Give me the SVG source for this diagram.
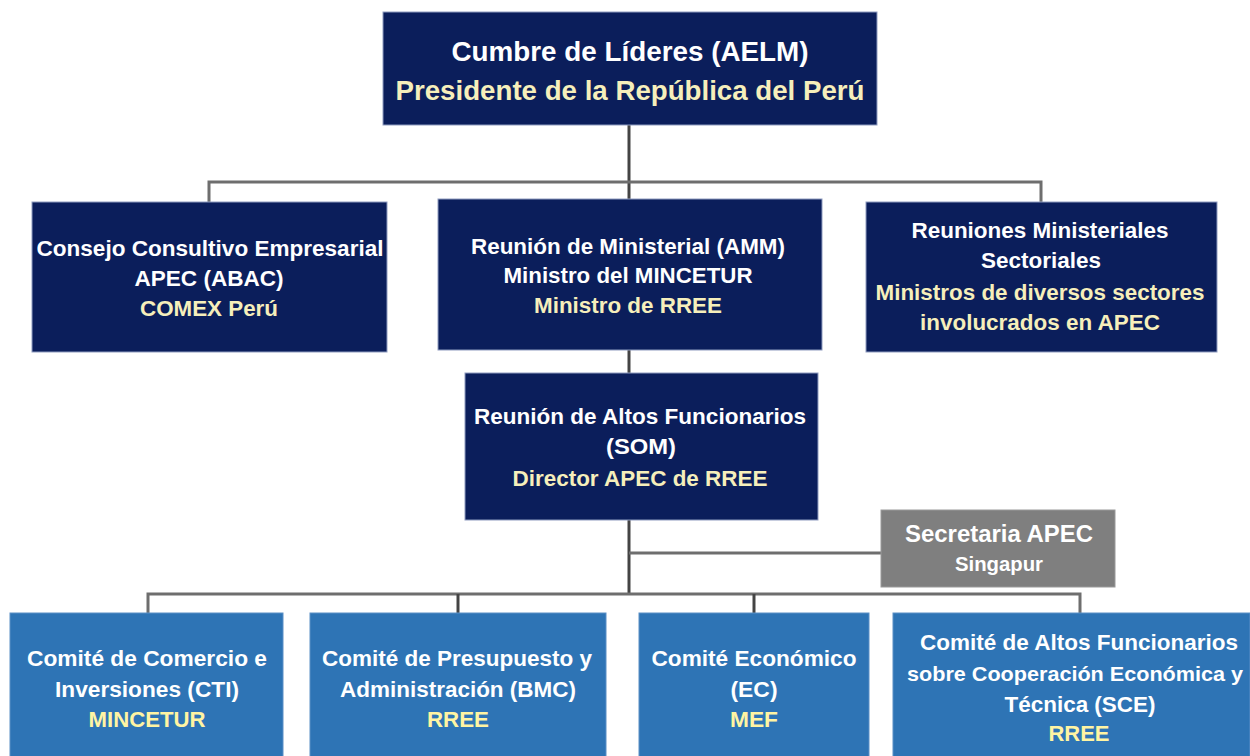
<svg xmlns="http://www.w3.org/2000/svg" width="1250" height="756" viewBox="0 0 1250 756">
<defs>
<style>
.navy{fill:#0b1e5b;stroke:#8f9cc0;stroke-width:1}
.blue{fill:#2e74b5;stroke:#5b8fc6;stroke-width:1}
.gray{fill:#7f7f7f;stroke:#9a9a9a;stroke-width:1}
text{font-family:"Liberation Sans",Arial,sans-serif;font-weight:bold;text-anchor:middle}
.w{fill:#ffffff}
.y{fill:#f6efbb}
.yb{fill:#fff4a3}
.t1{font-size:28px}
.t2{font-size:22.5px}
.t3{font-size:22.5px}
.con{fill:none;stroke:#444;stroke-width:3}
.conl{fill:none;stroke:#6e6e6e;stroke-width:3}
</style>
</defs>
<rect width="1250" height="756" fill="#ffffff"/>
<g id="connectors">
<path class="con" d="M629 125 V199"/>
<path class="conl" d="M209 202 V182 H1041 V202"/>
<path class="con" d="M629 350 V373"/>
<path class="con" d="M629 520 V594"/>
<path class="conl" d="M629 553 H881"/>
<path class="conl" d="M148 613 V594 H1080 V613"/>
<path class="con" d="M458 594 V613"/>
<path class="con" d="M754 594 V613"/>
</g>
<g id="aelm">
<rect class="navy" x="383" y="12" width="494" height="113"/>
<text class="t1 w" x="630" y="61" textLength="357" lengthAdjust="spacingAndGlyphs">Cumbre de Líderes (AELM)</text>
<text class="t1 y" x="630" y="100" textLength="469" lengthAdjust="spacingAndGlyphs">Presidente de la República del Perú</text>
</g>
<g id="abac">
<rect class="navy" x="32" y="202" width="355" height="150"/>
<text class="t2 w" x="210" y="256" textLength="347" lengthAdjust="spacingAndGlyphs">Consejo Consultivo Empresarial</text>
<text class="t2 w" x="209" y="286" textLength="149" lengthAdjust="spacingAndGlyphs">APEC (ABAC)</text>
<text class="t2 y" x="209" y="316" textLength="138" lengthAdjust="spacingAndGlyphs">COMEX Perú</text>
</g>
<g id="amm">
<rect class="navy" x="438" y="199" width="384" height="151"/>
<text class="t2 w" x="628" y="254" textLength="314" lengthAdjust="spacingAndGlyphs">Reunión de Ministerial (AMM)</text>
<text class="t2 w" x="628" y="283" textLength="249" lengthAdjust="spacingAndGlyphs">Ministro del MINCETUR</text>
<text class="t2 y" x="628" y="313" textLength="188" lengthAdjust="spacingAndGlyphs">Ministro de RREE</text>
</g>
<g id="sectoriales">
<rect class="navy" x="866" y="202" width="351" height="150"/>
<text class="t2 w" x="1040" y="238" textLength="257" lengthAdjust="spacingAndGlyphs">Reuniones Ministeriales</text>
<text class="t2 w" x="1041" y="268" textLength="120" lengthAdjust="spacingAndGlyphs">Sectoriales</text>
<text class="t2 y" x="1040" y="300" textLength="329" lengthAdjust="spacingAndGlyphs">Ministros de diversos sectores</text>
<text class="t2 y" x="1040" y="330" textLength="240" lengthAdjust="spacingAndGlyphs">involucrados en APEC</text>
</g>
<g id="som">
<rect class="navy" x="465" y="373" width="353" height="147"/>
<text class="t2 w" x="640" y="424" textLength="332" lengthAdjust="spacingAndGlyphs">Reunión de Altos Funcionarios</text>
<text class="t2 w" x="641" y="454" textLength="70" lengthAdjust="spacingAndGlyphs">(SOM)</text>
<text class="t2 y" x="640" y="486" textLength="255" lengthAdjust="spacingAndGlyphs">Director APEC de RREE</text>
</g>
<g id="secretaria">
<rect class="gray" x="881" y="510" width="234" height="77"/>
<text class="w" x="999" y="542" font-size="24" textLength="188" lengthAdjust="spacingAndGlyphs">Secretaria APEC</text>
<text class="w" x="999" y="571" font-size="20" textLength="88" lengthAdjust="spacingAndGlyphs">Singapur</text>
</g>
<g id="cti">
<rect class="blue" x="10" y="613" width="273" height="150"/>
<text class="t3 w" x="147" y="666" textLength="240" lengthAdjust="spacingAndGlyphs">Comité de Comercio e</text>
<text class="t3 w" x="147" y="697" textLength="184" lengthAdjust="spacingAndGlyphs">Inversiones (CTI)</text>
<text class="t3 yb" x="147" y="727" textLength="117" lengthAdjust="spacingAndGlyphs">MINCETUR</text>
</g>
<g id="bmc">
<rect class="blue" x="310" y="613" width="296" height="150"/>
<text class="t3 w" x="457" y="666" textLength="270" lengthAdjust="spacingAndGlyphs">Comité de Presupuesto y</text>
<text class="t3 w" x="458" y="697" textLength="236" lengthAdjust="spacingAndGlyphs">Administración (BMC)</text>
<text class="t3 yb" x="458" y="727" textLength="62" lengthAdjust="spacingAndGlyphs">RREE</text>
</g>
<g id="ec">
<rect class="blue" x="639" y="613" width="230" height="150"/>
<text class="t3 w" x="754" y="666" textLength="205" lengthAdjust="spacingAndGlyphs">Comité Económico</text>
<text class="t3 w" x="754" y="697" textLength="47" lengthAdjust="spacingAndGlyphs">(EC)</text>
<text class="t3 yb" x="754" y="727" textLength="48" lengthAdjust="spacingAndGlyphs">MEF</text>
</g>
<g id="sce">
<rect class="blue" x="893" y="613" width="357" height="150"/>
<text class="t3 w" x="1079" y="650" textLength="318" lengthAdjust="spacingAndGlyphs">Comité de Altos Funcionarios</text>
<text class="w" x="1075" y="681" font-size="20.5" textLength="336" lengthAdjust="spacingAndGlyphs">sobre Cooperación Económica y</text>
<text class="t3 w" x="1080" y="712" textLength="151" lengthAdjust="spacingAndGlyphs">Técnica (SCE)</text>
<text class="t3 yb" x="1079" y="741" textLength="61" lengthAdjust="spacingAndGlyphs">RREE</text>
</g>
</svg>
